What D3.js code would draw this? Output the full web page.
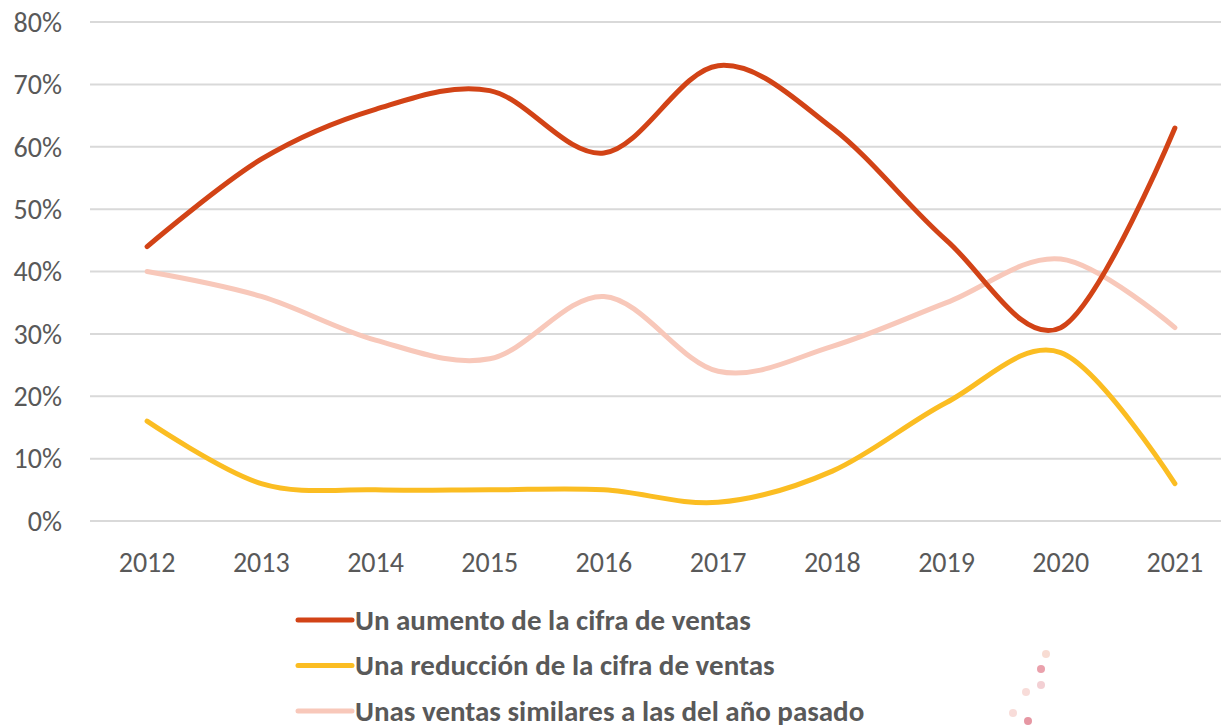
<!DOCTYPE html>
<html lang="es">
<head>
<meta charset="UTF-8">
<script src="https://d3js.org/d3.v7.min.js"></script>
<style>
    body { margin: 0; background: #fff; }
    svg { display: block; font-family: Carlito, Calibri, "Open Sans", sans-serif; }
    .grid line { stroke: #d9d9d9; stroke-width: 2px; }
    .tick text { fill: #595959; font-family: Carlito, Calibri, "Open Sans", sans-serif; }
</style>
</head>
<body>
<div id="chart"></div>
<script>
    // ---- data ----
    const years = ["2012", "2013", "2014", "2015", "2016", "2017", "2018", "2019", "2020", "2021"];
    const aumento = [44, 58, 66, 69, 59, 73, 63, 45, 31, 63];
    const reduccion = [16, 6, 5, 5, 5, 3, 8, 19, 27, 6];
    const similares = [40, 36, 29, 26, 36, 24, 28, 35, 42, 31];
    const seriesNames = ["Un aumento de la cifra de ventas",
                         "Una reducción de la cifra de ventas",
                         "Unas ventas similares a las del año pasado"];
    const seriesColors = ["#d24316", "#fbbd22", "#f8c8ba"];
    const yTicks = [0, 10, 20, 30, 40, 50, 60, 70, 80];

    const W = 1221, H = 728;
    const plot = { left: 90, right: 1232, top: 22, bottom: 521 };

    const svg = d3.select("#chart").append("svg")
        .attr("width", W)
        .attr("height", H);

    const x = d3.scaleBand()
        .domain(years)
        .range([plot.left, plot.right]);

    const y = d3.scaleLinear()
        .domain([0, 80])
        .range([plot.bottom, plot.top]);

    // gridlines
    svg.append("g")
        .attr("class", "grid")
        .selectAll("line")
        .data(yTicks)
        .join("line")
        .attr("x1", plot.left)
        .attr("x2", W)
        .attr("y1", d => y(d))
        .attr("y2", d => y(d));

    // y axis labels
    const yAxis = svg.append("g")
        .attr("transform", `translate(${plot.left - 28},0)`)
        .call(d3.axisLeft(y).tickValues(yTicks).tickFormat(d => d + "%").tickSize(0).tickPadding(0));
    yAxis.select(".domain").remove();
    yAxis.selectAll("text").style("font-size", "28px").attr("dy", "0.33em");

    // x axis labels
    const xAxis = svg.append("g")
        .attr("transform", `translate(0,${plot.bottom + 31})`)
        .call(d3.axisBottom(x).tickSize(0).tickPadding(0));
    xAxis.select(".domain").remove();
    xAxis.selectAll("text").style("font-size", "28px").attr("dy", "0.71em");

    // lines
    const line = d3.line()
        .x((d, i) => x(years[i]) + x.bandwidth() / 2)
        .y(d => y(d))
        .curve(d3.curveCardinal.tension(0));

    const allSeries = [aumento, reduccion, similares];
    const drawOrder = [2, 1, 0];
    svg.append("g")
        .selectAll("path")
        .data(drawOrder)
        .join("path")
        .attr("d", i => line(allSeries[i]))
        .attr("fill", "none")
        .attr("stroke", i => seriesColors[i])
        .attr("stroke-width", 5)
        .attr("stroke-linecap", "round")
        .attr("stroke-linejoin", "round");

    // legend
    const legend = svg.append("g")
        .selectAll("g")
        .data(seriesNames)
        .join("g")
        .attr("transform", (d, i) => `translate(298,${620 + i * 45.5})`);

    legend.append("line")
        .attr("x1", 0)
        .attr("x2", 54)
        .attr("stroke", (d, i) => seriesColors[i])
        .attr("stroke-width", 5)
        .attr("stroke-linecap", "round");

    legend.append("text")
        .attr("x", 57)
        .attr("dy", "0.33em")
        .attr("fill", "#595959")
        .style("font-size", "29px")
        .style("font-weight", "bold")
        .text(d => d);

    // small decorative dots, bottom right
    const dots = [[1046, 654, "#f6d3c8"], [1041, 669, "#e58a97"], [1041, 685, "#f0c4c9"], [1026, 692, "#f6d3cf"],
                  [1013, 713, "#f6d3cf"], [1028, 721, "#e07d8c"]];
    svg.append("g")
        .selectAll("circle")
        .data(dots)
        .join("circle")
        .attr("cx", d => d[0])
        .attr("cy", d => d[1])
        .attr("r", 4)
        .attr("fill", d => d[2])
        .attr("opacity", 0.8);
</script>
</body>
</html>
